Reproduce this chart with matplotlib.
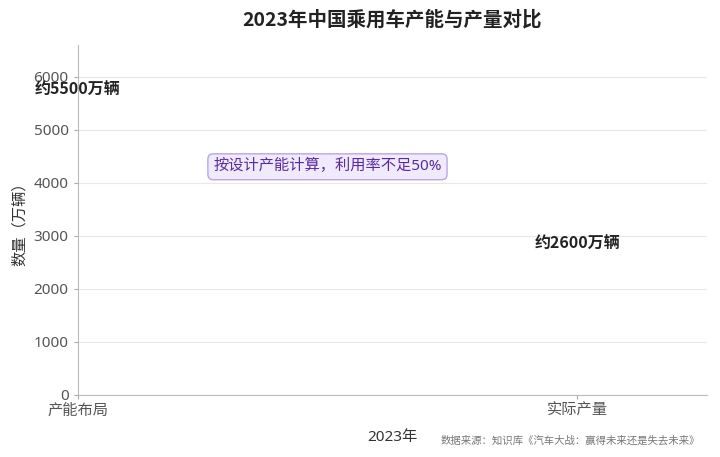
import matplotlib
matplotlib.use("Agg")
import matplotlib.pyplot as plt
import numpy as np

plt.rcParams['font.family'] = ['Noto Sans', 'Noto Sans CJK SC', 'DejaVu Sans']
bold_font = ['Noto Sans CJK SC', 'DejaVu Sans']

categories = ['产能布局', '实际产量']
values = [5500, 2600]
value_labels = ['约5500万辆', '约2600万辆']
note = '按设计产能计算，利用率不足50%'
source = '数据来源：知识库《汽车大战：赢得未来还是失去未来》'

fig = plt.figure(figsize=(7.2, 4.57), dpi=100)
ax = fig.add_axes([0.108, 0.136, 0.874, 0.766])

x = np.arange(len(categories))
# bars come out invisible in the reference, only labels remain
bars = ax.bar(x, values, width=0, linewidth=0)

for xi, v, lab in zip(x, values, value_labels):
    ax.text(xi, v + 250, lab, ha='center', va='center', fontsize=11.5,
            fontweight='bold', color='#222222', family=bold_font)

ax.text(0.5, 4300, note, ha='center', va='center', fontsize=11, color='#5b2a9e',
        bbox=dict(boxstyle='round,pad=0.35', facecolor='#efeafc', edgecolor='#b9a6e6', linewidth=1))

ax.set_xlim(0, 1.26)
ax.set_ylim(0, 6600)
ax.set_yticks(range(0, 6001, 1000))
ax.set_xticks(x)
ax.set_xticklabels(categories)
ax.tick_params(axis='both', labelsize=11, colors='#555555', length=3, color='#aaaaaa')

ax.grid(axis='y', color='#e8e8e8', linewidth=0.8)
ax.set_axisbelow(True)
for s in ['top', 'right']:
    ax.spines[s].set_visible(False)
for s in ['left', 'bottom']:
    ax.spines[s].set_color('#bbbbbb')

ax.set_title('2023年中国乘用车产能与产量对比', fontsize=14, fontweight='bold', color='#222222',
             pad=14, family=bold_font)
ax.set_xlabel('2023年', fontsize=11, color='#333333', labelpad=8)
ax.set_ylabel('数量（万辆）', fontsize=11, color='#333333')

fig.text(0.972, 0.035, source, ha='right', va='center', fontsize=7.5, color='#777777')

fig.savefig('out.png', dpi=100)
